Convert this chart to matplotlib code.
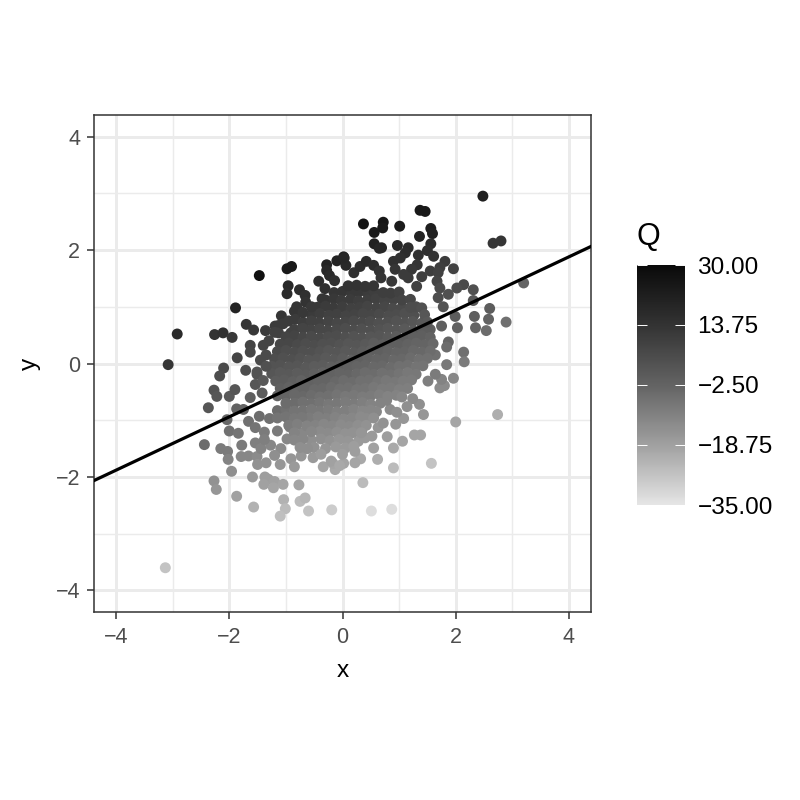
import matplotlib
matplotlib.use('Agg')
import matplotlib.pyplot as plt
from matplotlib.colors import LinearSegmentedColormap, Normalize
from matplotlib.ticker import MultipleLocator

plt.rcParams['font.family'] = ['Liberation Sans', 'DejaVu Sans']

# points, outer ones first and then the dense middle
outer_x = [
    -1.47, -0.98, -0.90, -1.89, -2.92, -2.26, -2.11, -1.95, -3.08, -1.70, -1.57, -1.36, -1.19, -1.08,
    -0.96, -0.98, -0.76, -0.66, -0.65, -0.81, -0.85, -0.83, -0.28, -0.28, -0.23, -0.14, -0.42, -0.31, -0.36, -0.51,
    0.02, -0.10, 0.06, -1.63, -1.63, -1.86, -2.10, -2.17, -1.71, -1.51, -1.45, -1.40, -1.13, -1.13, -0.91, -0.69,
    2.48, 1.37, 1.46, 0.37, 0.72, 0.71, 0.56, 1.01, 1.56, 1.59, 1.36, 2.66, 2.80, 0.56, 0.65, 0.69,
    0.97, 1.16, 1.11, 1.56, 1.50, 1.34, 1.61, 1.02, 0.90, 0.93, 1.32, 1.22, 1.08, 1.16, 1.81, 1.72, 1.96,
    0.03, 0.20, 0.31, 0.42, 0.55, 0.65, 0.68, 0.87,
    1.40, 1.55, 1.69, 1.67, 1.72, 1.31, 2.14, 2.02, 1.87, 2.31, 1.69, 1.78, 2.31, 2.60, 3.20, 2.33, 2.58, 2.89,
    1.99, 1.75, 2.03, 2.35, 2.54, 1.55, 1.87, 1.84, 2.14, 2.15, 1.84, 1.64,
    -3.13, -2.37, -2.44, -2.27, -2.22, -2.15, -2.03, -2.02, -1.96, -2.27, -2.23, -1.87, -1.57, -1.59,
    -1.37, -1.31, -1.39, -1.20, -1.22, -1.05, -0.77, -1.04, -1.01, -1.10, -0.75, -0.66, -0.60, -0.19,
    -2.00, -1.90, -1.63, -1.87, -1.75, -2.04, -2.00, -1.84, -1.78, -1.79, -1.66, -1.51, -1.50, -1.35,
    -1.54, -1.44, -1.27, -1.09, -1.20, -1.10, -0.91, -0.85, -0.98, -1.15, -0.93, -1.66, -1.54, -1.38, -1.38,
    -1.47, -1.29, -0.34, -0.52, -0.73, -0.13, -0.17, -1.51, -1.54, -1.42,
    2.74, 2.00, 1.57, 1.96, 1.72, 1.80, 1.75, 1.64, 1.51, 1.36, 1.24, 1.43, 1.14, 1.08, 0.94, 0.84, 0.96, 0.78,
    1.27, 1.38, 1.06, 0.79, 0.90, 0.55, 0.62, 0.32, 0.90, 0.02, 0.36, 0.51, 0.87,
    0.28, 0.40, 0.52, 0.63, 0.72, 0.06, 0.34, 0.46, 0.25,
]
outer_y = [
    1.55, 1.67, 1.71, 0.98, 0.52, 0.51, 0.54, 0.46, -0.02, 0.69, 0.59, 0.58, 0.66, 0.84,
    1.37, 1.23, 1.30, 1.20, 1.08, 1.00, 0.92, 0.78, 1.74, 1.64, 1.55, 1.46, 1.45, 1.32, 1.14, 0.91,
    1.88, 1.81, 1.73, 0.32, 0.20, 0.10, -0.08, -0.22, -0.12, -0.15, 0.06, 0.32, 0.67, 0.54, 0.54, 0.66,
    2.95, 2.70, 2.68, 2.46, 2.49, 2.39, 2.31, 2.42, 2.38, 2.29, 2.24, 2.12, 2.16, 2.11, 2.03, 2.04,
    2.08, 2.04, 1.95, 2.11, 1.99, 1.91, 1.89, 1.86, 1.80, 1.66, 1.74, 1.66, 1.57, 1.51, 1.80, 1.69, 1.67,
    1.86, 1.60, 1.71, 1.80, 1.73, 1.63, 1.51, 1.45,
    1.53, 1.63, 1.60, 1.45, 1.33, 1.36, 1.39, 1.33, 1.22, 1.30, 1.16, 1.00, 1.11, 0.97, 1.42, 0.83, 0.78, 0.73,
    0.83, 0.66, 0.63, 0.63, 0.58, 0.60, 0.38, 0.29, 0.20, 0.03, -0.02, 0.15,
    -3.60, -0.78, -1.43, -0.47, -0.58, -1.50, -1.55, -1.69, -1.90, -2.07, -2.22, -2.34, -2.53, -2.00,
    -2.00, -2.04, -2.13, -2.08, -2.19, -2.13, -2.14, -2.40, -2.56, -2.69, -2.43, -2.37, -2.60, -2.58,
    -0.58, -0.46, -0.60, -0.80, -0.81, -0.99, -1.19, -1.23, -1.44, -1.64, -1.63, -1.64, -1.78, -1.75,
    -1.40, -1.50, -1.44, -1.50, -1.62, -1.78, -1.68, -1.82, -1.33, -1.19, -1.12, -1.02, -1.13, -1.21, -1.34,
    -0.93, -0.97, -1.82, -1.66, -1.63, -1.87, -1.76, -0.19, -0.37, -0.52,
    -0.90, -1.03, -1.76, -0.26, -0.43, -0.39, -0.28, -0.19, -0.31, -0.72, -0.62, -0.90, -0.76, -0.97, -1.07, -0.81, -0.86, -0.65,
    -1.26, -1.26, -1.37, -1.29, -1.49, -1.49, -1.69, -1.68, -1.84, -1.76, -2.10, -2.60, -2.57,
    -1.37, -1.31, -1.28, -1.13, -1.05, -1.29, -1.19, -0.96, -0.90,
]
outer_q = [
    27, 24, 24, 20, 17, 14, 15, 12, 13, 13, 12, 11, 11, 13,
    18, 17, 16, 15, 14, 13, 13, 11, 20, 18, 17, 15, 16, 15, 13, 11,
    21, 20, 18, 8, 7, 8, 6, 5, 5, 3, 6, 8, 11, 9, 9, 9,
    22, 24, 24, 26, 25, 24, 23, 23, 22, 21, 20, 13, 13, 21, 19, 19,
    18, 17, 16, 16, 15, 15, 14, 15, 15, 13, 13, 12, 11, 11, 11, 10, 9,
    19, 15, 16, 17, 16, 14, 13, 12,
    10, 10, 9, 8, 6, 9, 6, 5, 4, 4, 5, 3, 2, 0, -3, -1, -2, -6,
    0, -1, -2, -3, -5, -1, -3, -5, -6, -9, -8, -6,
    -27, 2, -5, 3, 2, -9, -9, -11, -14, -15, -16, -19, -23, -17,
    -18, -18, -19, -19, -20, -20, -20, -23, -25, -26, -25, -24, -27, -29,
    1, 2, -1, -2, -3, -4, -6, -7, -9, -12, -12, -13, -15, -15,
    -10, -11, -12, -13, -14, -16, -16, -17, -12, -9, -10, -6, -7, -9, -10,
    -5, -6, -20, -17, -16, -21, -20, 3, 2, 0,
    -22, -20, -27, -12, -13, -13, -11, -9, -10, -14, -13, -16, -14, -16, -16, -13, -14, -11,
    -20, -20, -20, -18, -21, -19, -22, -21, -25, -20, -25, -33, -33,
    -17, -17, -17, -16, -15, -15, -15, -14, -12,
]

core_x = [
    -0.15, 0.00, 0.16, 0.29, 0.45, 0.57,
    -0.30, -0.15, -0.02, 0.14, 0.28, 0.44, 0.59, 0.74, 0.90,
    -0.45, -0.30, -0.16, 0.00, 0.15, 0.30, 0.44, 0.60, 0.75, 0.89, 1.05,
    -0.55, -0.40, -0.24, -0.10, 0.06, 0.21, 0.36, 0.50, 0.65, 0.81, 0.95, 1.10, 1.26,
    -0.70, -0.55, -0.41, -0.25, -0.10, 0.05, 0.20, 0.35, 0.49, 0.64, 0.80, 0.95, 1.10, 1.24, 1.40,
    -0.85, -0.70, -0.55, -0.40, -0.26, -0.10, 0.05, 0.20, 0.34, 0.50, 0.65, 0.80, 0.95, 1.10, 1.25, 1.40, 1.50,
    -1.00, -0.85, -0.70, -0.55, -0.40, -0.25, -0.10, 0.05, 0.20, 0.35, 0.50, 0.65, 0.80, 0.95, 1.10, 1.25, 1.40, 1.55,
    -1.10, -0.95, -0.80, -0.65, -0.50, -0.35, -0.20, -0.05, 0.10, 0.25, 0.40, 0.55, 0.70, 0.85, 1.00, 1.15, 1.30, 1.45, 1.60,
    -1.15, -1.00, -0.85, -0.70, -0.55, -0.40, -0.25, -0.10, 0.05, 0.20, 0.35, 0.50, 0.65, 0.80, 0.95, 1.10, 1.25, 1.40, 1.55,
    -1.20, -1.05, -0.90, -0.75, -0.60, -0.45, -0.30, -0.15, 0.00, 0.15, 0.30, 0.45, 0.60, 0.75, 0.90, 1.05, 1.20, 1.35, 1.50,
    -1.25, -1.10, -0.95, -0.80, -0.65, -0.50, -0.35, -0.20, -0.05, 0.10, 0.25, 0.40, 0.55, 0.70, 0.85, 1.00, 1.15, 1.30, 1.42,
    -1.25, -1.10, -0.95, -0.80, -0.65, -0.50, -0.35, -0.20, -0.05, 0.10, 0.25, 0.40, 0.55, 0.70, 0.85, 1.00, 1.15, 1.30,
    -1.18, -1.03, -0.88, -0.73, -0.58, -0.43, -0.28, -0.13, 0.02, 0.17, 0.32, 0.47, 0.62, 0.77, 0.92, 1.07, 1.22,
    -1.10, -0.95, -0.80, -0.65, -0.50, -0.35, -0.20, -0.05, 0.10, 0.25, 0.40, 0.55, 0.70, 0.85, 1.00, 1.15,
    -1.00, -0.85, -0.70, -0.55, -0.40, -0.25, -0.10, 0.05, 0.20, 0.35, 0.50, 0.65, 0.80, 0.95, 1.05,
    -0.85, -0.70, -0.55, -0.40, -0.25, -0.10, 0.05, 0.20, 0.35, 0.50, 0.67,
    -0.70, -0.55, -0.40, -0.25, -0.10, 0.05, 0.20, 0.35, 0.50, 0.60,
    -0.58, -0.43, -0.28, -0.13, 0.02, 0.17, 0.32, 0.42,
    -0.48, -0.33, -0.18, -0.03, 0.12, 0.27,
    -0.70, -0.40, -0.25, -0.10, 0.05, 0.18,
    -0.55, -0.38, -0.22, -0.06, 0.10,
    -0.50, -0.30, -0.12, 0.05, 0.20,
    -0.38, -0.20, 0.00, -0.05, 0.22, 0.22,
    # edges of the dense part
    -1.15, -1.00, -0.85, -1.15, -1.00, -0.85, -0.72, 0.55, -0.95, -0.80, -0.63, 0.42,
    -0.85, -0.55, 0.33, -0.85, -0.70, -0.75, -0.62, -1.00, -1.15,
    0.10, 0.25, 0.40, 0.55, 0.72, 0.85, 1.00, 1.05, 1.20, 1.20, 1.30, 1.40, 1.45, 1.50,
    -1.35, -1.35, -1.40, -1.30, -1.20, -1.05, -0.95, -0.70, -0.55,
]
core_y = [
    1.25, 1.27, 1.24, 1.26, 1.23, 1.25,
    1.12, 1.14, 1.11, 1.13, 1.10, 1.12, 1.14, 1.11, 1.13,
    0.99, 1.01, 0.98, 1.00, 0.97, 0.99, 1.01, 0.98, 1.00, 0.97, 0.99,
    0.86, 0.88, 0.85, 0.87, 0.84, 0.86, 0.88, 0.85, 0.87, 0.84, 0.86, 0.88, 0.85,
    0.73, 0.75, 0.72, 0.74, 0.71, 0.73, 0.75, 0.72, 0.74, 0.71, 0.73, 0.75, 0.72, 0.74, 0.71,
    0.60, 0.62, 0.59, 0.61, 0.58, 0.60, 0.62, 0.59, 0.61, 0.58, 0.60, 0.62, 0.59, 0.61, 0.58, 0.60, 0.62,
    0.47, 0.49, 0.46, 0.48, 0.45, 0.47, 0.49, 0.46, 0.48, 0.45, 0.47, 0.49, 0.46, 0.48, 0.45, 0.47, 0.49, 0.46,
    0.34, 0.36, 0.33, 0.35, 0.32, 0.34, 0.36, 0.33, 0.35, 0.32, 0.34, 0.36, 0.33, 0.35, 0.32, 0.34, 0.36, 0.33, 0.35,
    0.21, 0.23, 0.20, 0.22, 0.19, 0.21, 0.23, 0.20, 0.22, 0.19, 0.21, 0.23, 0.20, 0.22, 0.19, 0.21, 0.23, 0.20, 0.22,
    0.08, 0.10, 0.07, 0.09, 0.06, 0.08, 0.10, 0.07, 0.09, 0.06, 0.08, 0.10, 0.07, 0.09, 0.06, 0.08, 0.10, 0.07, 0.09,
    -0.05, -0.03, -0.06, -0.04, -0.07, -0.05, -0.03, -0.06, -0.04, -0.07, -0.05, -0.03, -0.06, -0.04, -0.07, -0.05, -0.03, -0.06, -0.04,
    -0.18, -0.16, -0.19, -0.17, -0.20, -0.18, -0.16, -0.19, -0.17, -0.20, -0.18, -0.16, -0.19, -0.17, -0.20, -0.18, -0.16, -0.19,
    -0.31, -0.29, -0.32, -0.30, -0.33, -0.31, -0.29, -0.32, -0.30, -0.33, -0.31, -0.29, -0.32, -0.30, -0.33, -0.31, -0.29,
    -0.44, -0.42, -0.45, -0.43, -0.46, -0.44, -0.42, -0.45, -0.43, -0.46, -0.44, -0.42, -0.45, -0.43, -0.46, -0.44,
    -0.57, -0.55, -0.58, -0.56, -0.59, -0.57, -0.55, -0.58, -0.56, -0.59, -0.57, -0.55, -0.58, -0.56, -0.59,
    -0.70, -0.68, -0.71, -0.69, -0.72, -0.70, -0.68, -0.71, -0.69, -0.72, -0.70,
    -0.83, -0.81, -0.84, -0.82, -0.85, -0.83, -0.81, -0.84, -0.82, -0.85,
    -0.96, -0.94, -0.97, -0.95, -0.98, -0.96, -0.94, -0.97,
    -1.09, -1.07, -1.10, -1.08, -1.11, -1.09,
    -1.22, -1.20, -1.23, -1.21, -1.24, -1.22,
    -1.35, -1.33, -1.36, -1.34, -1.37,
    -1.48, -1.50, -1.47, -1.49, -1.46,
    -1.60, -1.72, -1.60, -1.80, -1.55, -1.75,
    # edges of the dense part
    -0.83, -0.81, -0.84, -0.96, -0.94, -0.97, -0.95, -0.96, -1.09, -1.07, -1.10, -1.09,
    -1.22, -1.20, -1.22, -1.35, -1.33, -1.48, -1.50, -0.70, -0.57,
    1.37, 1.38, 1.36, 1.37, 1.25, 1.24, 1.26, 1.12, 1.13, 0.99, 1.00, 0.98, 0.86, 0.73,
    0.15, -0.05, -0.30, 0.40, 0.55, 0.70, 0.75, 0.90, 1.00,
]
core_q = [
    13, 13, 12, 12, 11, 10,
    13, 12, 11, 11, 10, 10, 9, 8, 8,
    12, 11, 11, 10, 9, 9, 8, 8, 7, 6, 6,
    11, 10, 9, 9, 8, 8, 7, 7, 6, 5, 5, 4, 4,
    10, 9, 9, 8, 7, 7, 6, 6, 5, 4, 4, 3, 3, 2, 1,
    9, 8, 8, 7, 7, 6, 5, 5, 4, 4, 3, 2, 2, 1, 1, 0, 0,
    8, 8, 7, 6, 6, 5, 5, 4, 3, 3, 2, 2, 1, 0, 0, -1, -1, -2,
    7, 7, 6, 5, 5, 4, 4, 3, 2, 2, 1, 0, 0, -1, -1, -2, -3, -3, -4,
    6, 5, 5, 4, 4, 3, 2, 2, 1, 1, 0, -1, -1, -2, -3, -3, -4, -4, -5,
    5, 4, 4, 3, 2, 2, 1, 1, 0, -1, -1, -2, -3, -3, -4, -4, -5, -6, -6,
    3, 3, 2, 2, 1, 0, 0, -1, -1, -2, -3, -3, -4, -4, -5, -6, -6, -7, -7,
    2, 1, 1, 0, 0, -1, -2, -2, -3, -3, -4, -5, -5, -6, -6, -7, -8, -8,
    0, 0, -1, -2, -2, -3, -3, -4, -5, -5, -6, -6, -7, -8, -8, -9, -9,
    -1, -2, -3, -3, -4, -4, -5, -6, -6, -7, -7, -8, -9, -9, -10, -10,
    -3, -4, -4, -5, -6, -6, -7, -8, -8, -9, -9, -10, -11, -11, -12,
    -5, -6, -6, -7, -8, -8, -9, -9, -10, -11, -11,
    -7, -8, -8, -9, -10, -10, -11, -12, -12, -12,
    -9, -10, -10, -11, -12, -12, -13, -13,
    -11, -12, -12, -13, -13, -14,
    -12, -13, -13, -14, -15, -15,
    -14, -14, -15, -16, -16,
    -15, -16, -17, -17, -18,
    -18, -19, -18, -21, -18, -20,
    # edges of the dense part
    -5, -6, -7, -7, -7, -8, -8, -14, -9, -10, -11, -15,
    -11, -12, -16, -12, -12, -14, -14, -5, -3,
    14, 14, 13, 13, 10, 10, 9, 8, 7, 5, 5, 4, 2, 1,
    6, 4, 1, 8, 9, 11, 11, 12, 12,
]

q_ticks = [30.00, 13.75, -2.50, -18.75, -35.00]
q_tick_labels = ['30.00', '13.75', '\u22122.50', '\u221218.75', '\u221235.00']
ticks = [-4, -2, 0, 2, 4]
tick_labels = ['\u22124', '\u22122', '0', '2', '4']
line_slope = 0.47

# gray scale, values taken from the colour bar
gray_scale = LinearSegmentedColormap.from_list('q_gray', [
    (0.0, '#e5e5e5'), (0.25, '#a0a0a0'), (0.5, '#636363'), (0.75, '#333333'), (1.0, '#0a0a0a')])
norm = Normalize(-35, 30)

fig = plt.figure(figsize=(8, 8), dpi=100)
ax = fig.add_axes([94 / 800, 188 / 800, 497 / 800, 497 / 800])

sc = ax.scatter(outer_x + core_x, outer_y + core_y, c=outer_q + core_q, cmap=gray_scale, norm=norm,
                s=62, linewidths=0, zorder=3)
ax.axline((0, 0), slope=line_slope, color='black', linewidth=2.3, zorder=4)

ax.set_xlim(-4.39, 4.39)
ax.set_ylim(-4.38, 4.38)
ax.set_xticks(ticks, tick_labels)
ax.set_yticks(ticks, tick_labels)
ax.xaxis.set_minor_locator(MultipleLocator(1))
ax.yaxis.set_minor_locator(MultipleLocator(1))
ax.grid(True, which='major', color='#ebebeb', linewidth=2.1, zorder=0)
ax.grid(True, which='minor', color='#ebebeb', linewidth=1.05, zorder=0)
ax.set_axisbelow(True)
ax.tick_params(which='minor', length=0)
ax.tick_params(which='major', length=5, width=1.1, color='#333333', labelcolor='#4d4d4d', labelsize=15.5)
ax.tick_params(axis='x', which='major', pad=6)
ax.tick_params(axis='y', which='major', pad=5)
for spine in ax.spines.values():
    spine.set_color('#333333')
    spine.set_linewidth(1.1)
ax.set_xlabel('x', fontsize=17.6, labelpad=8.5)
ax.set_ylabel('y', fontsize=17.6, labelpad=10.5)

# colour bar on the right
cax = fig.add_axes([637 / 800, 295 / 800, 48 / 800, 240 / 800])
cbar = fig.colorbar(sc, cax=cax, ticks=q_ticks)
cbar.ax.set_yticklabels(q_tick_labels)
cbar.outline.set_visible(False)
cax.tick_params(left=True, right=True, direction='in', length=7.2, width=0.7, color='white',
                labelsize=17.6, pad=9, labelcolor='black')
fig.text(637 / 800, 1 - 237 / 800, 'Q', fontsize=22, ha='left', va='center')

fig.savefig('out.png', dpi=100)
